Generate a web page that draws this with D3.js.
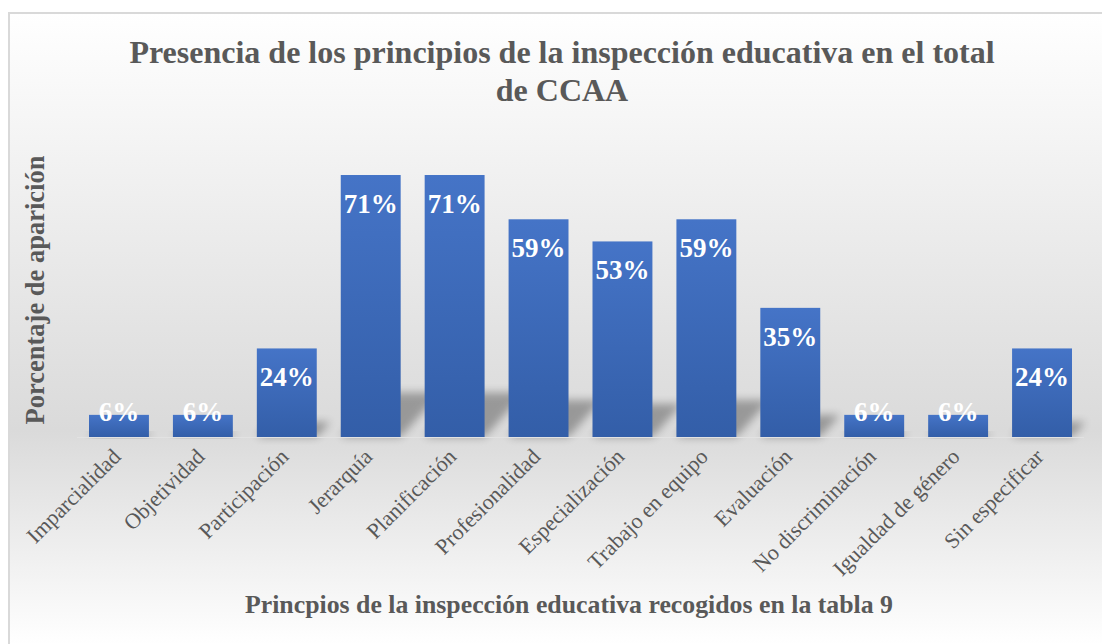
<!DOCTYPE html>
<html>
<head>
<meta charset="utf-8">
<script src="https://cdn.jsdelivr.net/npm/d3@7"></script>
<style>
  html, body { margin: 0; padding: 0; background: #fff; }
  svg { display: block; font-family: "Liberation Serif", "Times New Roman", serif; }
</style>
</head>
<body>
<script>
var categories = ["Imparcialidad", "Objetividad", "Participación", "Jerarquía", "Planificación",
    "Profesionalidad", "Especialización", "Trabajo en equipo", "Evaluación",
    "No discriminación", "Igualdad de género", "Sin especificar"];
var values = [6, 6, 24, 71, 71, 59, 53, 59, 35, 6, 6, 24];
var titleLines = ["Presencia de los principios de la inspección educativa en el total", "de CCAA"];
var yTitle = "Porcentaje de aparición";
var xTitle = "Princpios de la inspección educativa recogidos en la tabla 9";

var width = 1102, height = 644;
var baseY = 437;

var svg = d3.select("body").append("svg")
    .attr("width", width)
    .attr("height", height);

var defs = svg.append("defs");

var bg = defs.append("linearGradient").attr("id", "bg")
    .attr("x1", 0).attr("y1", 0).attr("x2", 0).attr("y2", 1);
bg.append("stop").attr("offset", "0%").attr("stop-color", "#ffffff");
bg.append("stop").attr("offset", "66%").attr("stop-color", "#dadada");
bg.append("stop").attr("offset", "100%").attr("stop-color", "#ffffff");

var barGrad = defs.append("linearGradient").attr("id", "barGrad")
    .attr("x1", 0).attr("y1", 0).attr("x2", 0).attr("y2", 1);
barGrad.append("stop").attr("offset", "0%").attr("stop-color", "#4574c7");
barGrad.append("stop").attr("offset", "100%").attr("stop-color", "#335ea8");

defs.append("filter").attr("id", "blur")
    .attr("x", "-50%").attr("y", "-50%").attr("width", "200%").attr("height", "200%")
    .append("feGaussianBlur").attr("stdDeviation", 4);

// chart area
svg.append("rect")
    .attr("x", 9).attr("y", 13)
    .attr("width", width - 8).attr("height", height - 12)
    .attr("fill", "url(#bg)")
    .attr("stroke", "#d9d9d9")
    .attr("stroke-width", 2);

var x = d3.scaleBand()
    .domain(categories)
    .range([77, 1084])
    .paddingInner(0.286)
    .paddingOuter(0.143);

var y = d3.scaleLinear()
    .domain([0, 80])
    .range([baseY, baseY - 80 * 3.69]);

// perspective shadows
svg.append("g").selectAll("path")
    .data(values)
    .join("path")
    .attr("d", function(d, i) {
        var x0 = x(categories[i]), w = x.bandwidth();
        var h = (baseY - y(d)) * 0.17;
        var dx = h * 0.9;
        return "M" + x0 + "," + baseY + "L" + (x0 + w) + "," + baseY +
            "L" + (x0 + w + dx) + "," + (baseY - h) + "L" + (x0 + dx) + "," + (baseY - h) + "Z";
    })
    .attr("fill", "#000")
    .attr("opacity", 0.3)
    .attr("filter", "url(#blur)");

// baseline
svg.append("line")
    .attr("x1", 77).attr("x2", 1084)
    .attr("y1", baseY + 0.5).attr("y2", baseY + 0.5)
    .attr("stroke", "#e2e2e2");

svg.append("g").selectAll("rect")
    .data(values)
    .join("rect")
    .attr("x", function(d, i) { return x(categories[i]); })
    .attr("y", function(d) { return y(d); })
    .attr("width", x.bandwidth())
    .attr("height", function(d) { return baseY - y(d); })
    .attr("fill", "url(#barGrad)");

// data labels
svg.append("g").selectAll("text")
    .data(values)
    .join("text")
    .attr("x", function(d, i) { return x(categories[i]) + x.bandwidth() / 2; })
    .attr("y", function(d) { return Math.min(y(d) + 38, baseY - 16); })
    .attr("text-anchor", "middle")
    .attr("fill", "#ffffff")
    .attr("font-family", "Liberation Serif, serif")
    .attr("font-weight", "bold")
    .attr("font-size", "27px")
    .text(function(d) { return d + "%"; });

// x axis labels
var xAxis = d3.axisBottom(x).tickSize(0).tickPadding(0);
var gx = svg.append("g")
    .attr("transform", "translate(0," + baseY + ")")
    .call(xAxis);
gx.select(".domain").remove();
gx.selectAll("text")
    .attr("fill", "#595959")
    .attr("font-family", "Liberation Serif, serif")
    .attr("font-size", "22px")
    .attr("text-anchor", "end")
    .attr("x", 0).attr("y", 0).attr("dy", 0)
    .attr("transform", "translate(3,21) rotate(-45)");

// title
svg.append("text")
    .attr("x", 562)
    .attr("text-anchor", "middle")
    .attr("fill", "#595959")
    .attr("font-weight", "bold")
    .attr("font-size", "32px")
    .selectAll("tspan")
    .data(titleLines)
    .join("tspan")
    .attr("x", 562)
    .attr("y", function(d, i) { return 63 + i * 38; })
    .text(function(d) { return d; });

// axis titles
svg.append("text")
    .attr("transform", "translate(44,290) rotate(-90)")
    .attr("text-anchor", "middle")
    .attr("fill", "#595959")
    .attr("font-weight", "bold")
    .attr("font-size", "26.5px")
    .text(yTitle);

svg.append("text")
    .attr("x", 569)
    .attr("y", 613)
    .attr("text-anchor", "middle")
    .attr("fill", "#595959")
    .attr("font-weight", "bold")
    .attr("font-size", "25.8px")
    .text(xTitle);
</script>
</body>
</html>
